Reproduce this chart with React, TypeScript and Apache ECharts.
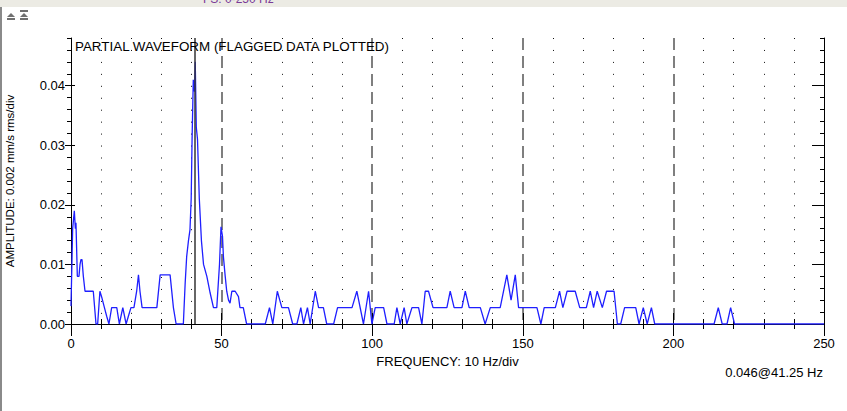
import React, { useEffect, useRef } from "react";
import * as echarts from "echarts";

const L1 = 0.00275;
const L2 = 0.0055;
const L3 = 0.00825;

// Frequency (Hz) of each plotted point
const freqs: number[] = [
  0, 0.55, 1.1, 1.45, 1.65, 2.1, 2.65, 3.0, 3.3, 3.65, 4.1, 4.65, 7.4, 8.3, 8.85, 9.6, 10.2, 11.1, 11.85, 12.6,
  13.5, 15.2, 16.05, 17.2, 18.3, 19.05, 19.9, 20.9, 21.8, 22.4, 22.9, 23.6, 28.5, 29.6, 32.9, 34.0, 34.9, 37.3,
  37.9, 38.4, 39.0, 39.5, 39.9, 40.2, 40.6, 41.0, 41.25, 41.6, 42.0, 42.6, 43.3, 44.0, 45.1, 46.2, 47.3, 48.4,
  49.3, 49.8, 50.3, 50.6, 51.2, 51.7, 52.3, 52.8, 53.4, 54.5, 55.6, 56.1, 57.2, 58.3,
  64.5, 65.9, 67.0, 68.5, 70.0, 72.2, 73.6, 75.0, 76.3, 77.2, 78.5, 79.4, 81.1, 82.2, 83.8, 84.9, 87.2, 88.5,
  93.3, 94.9, 97.1, 98.8, 99.9, 101.0, 103.8, 104.9, 107.3, 108.2, 109.3, 110.6, 111.5, 113.2, 115.4, 116.5,
  117.6, 118.7, 120.2, 124.8, 125.9, 127.2, 129.8, 130.9, 132.2, 135.9, 137.5, 139.2, 142.5, 144.7, 146.1,
  147.5, 148.6, 154.7, 156.0, 157.1, 160.8, 162.2, 163.3, 164.7, 167.4, 168.9, 171.1, 172.4, 173.5, 174.7,
  176.4, 177.8, 180.3, 181.4, 182.5, 183.8, 187.5, 188.6, 190.0, 191.3, 192.7, 193.8, 213.5, 214.9, 216.2,
  217.8, 219.0, 220.3, 250,
];

// Amplitude (mm/s rms) at each frequency above
const amps: number[] = [
  0.003, 0.016, 0.019, 0.016, 0.017, 0.008, 0.008, 0.010, 0.0108, 0.0108, 0.008, L2, L2, 0, 0, L2, 0.0045, L1, 0.0013, 0,
  L1, L1, 0, L1, 0, 0.0013, L1, L1, L2, L3, L2, L1, L1, L3, L3, L1, 0, 0,
  0.0068, 0.0113, 0.014, 0.0158, 0.021, 0.031, 0.041, 0.039, 0.044, 0.033, 0.031, 0.021, 0.014, 0.010, 0.008, 0.0052, L1, L1,
  0.010, 0.0163, 0.0147, 0.0113, 0.008, L2, 0.004, 0.0035, L2, L2, 0.0046, L1, L1, 0,
  0, L1, 0, L2, L1, L1, 0, 0, L1, 0, L1, 0, L2, L1, L1, 0, 0, L1,
  L1, L2, 0, L2, 0, L1, L1, 0, 0, L1, 0, L1, 0, L1, L1, 0,
  L2, L2, L1, L1, L2, L1, L1, L2, L1, L1, 0, L1, L1, L3, 0.004,
  L3, L1, L1, 0, L1, L1, L2, L1, L2, L2, L1, L1, L2, L1, L2,
  L1, L2, L2, 0, 0, L1, L1, 0, L1, 0, L1, 0, 0, L1, 0,
  0, L1, 0, 0,
];

const majorY = [0, 0.01, 0.02, 0.03, 0.04];
const cursorFreq = 41.25;
const cursorLabel = "0.046@41.25 Hz";
const titleText = "PARTIAL WAVEFORM (FLAGGED DATA PLOTTED)";
const xName = "FREQUENCY: 10 Hz/div";
const yName = "AMPLITUDE: 0.002 mm/s rms/div";
const headerText = "FS: 0-250 Hz";

const FONT = "'Liberation Sans', Arial, sans-serif";

export default function App() {
  const ref = useRef<HTMLDivElement>(null);
  useEffect(() => {
    if (!ref.current) return;
    const chart = echarts.init(ref.current, undefined, { renderer: "svg" });
    const data = freqs.map((f, i) => [f, amps[i]]);
    const yBase = { type: "value", min: 0, max: 0.048, splitLine: { show: false } };
    const option: any = {
      animation: false,
      backgroundColor: "#ffffff",
      textStyle: { fontFamily: FONT },
      title: {
        text: titleText,
        left: 75,
        top: 40,
        padding: 0,
        textStyle: { fontSize: 13.4, fontWeight: "normal", color: "#000", fontFamily: FONT },
      },
      grid: {
        left: 71,
        top: 38,
        width: 753,
        height: 286,
        containLabel: false,
        outerBoundsMode: "none",
      },
      xAxis: [
        {
          type: "value",
          position: "bottom",
          min: 0,
          max: 250,
          interval: 50,
          axisLine: { show: true, lineStyle: { color: "#000", width: 1 } },
          axisTick: { show: true, length: 12, lineStyle: { color: "#000" } },
          minorTick: { show: true, splitNumber: 5, length: 5, lineStyle: { color: "#000" } },
          axisLabel: { color: "#000", fontSize: 13, margin: 13, fontFamily: FONT },
          splitLine: {
            show: true,
            showMinLine: false,
            showMaxLine: false,
            lineStyle: { color: "#555", width: 1.5, type: [12, 6] },
          },
          minorSplitLine: { show: true, lineStyle: { color: "#111", width: 1, type: [1, 10.95] } },
          name: xName,
          nameLocation: "middle",
          nameGap: 27,
          nameTextStyle: { color: "#000", fontSize: 13, fontFamily: FONT },
        },
        {
          type: "value",
          position: "top",
          min: 0,
          max: 250,
          interval: 50,
          axisLine: { show: true, lineStyle: { color: "#000", width: 1 } },
          axisTick: { show: true, length: 11, lineStyle: { color: "#000" } },
          minorTick: { show: true, splitNumber: 5, length: 5, lineStyle: { color: "#000" } },
          axisLabel: { show: false },
          splitLine: { show: false },
        },
      ],
      yAxis: [
        {
          ...yBase,
          position: "left",
          interval: 0.002,
          axisLine: { show: true, lineStyle: { color: "#000", width: 1 } },
          axisTick: { show: true, length: 4, lineStyle: { color: "#000" } },
          axisLabel: {
            color: "#000",
            fontSize: 13,
            margin: 6,
            fontFamily: FONT,
            formatter: (v: number) => {
              const k = Math.round(v / 0.002);
              return k % 5 === 0 ? v.toFixed(2) : "";
            },
          },
          name: yName,
          nameLocation: "middle",
          nameRotate: 90,
          nameGap: 55,
          nameTextStyle: { color: "#000", fontSize: 11.5, fontFamily: FONT },
        },
        {
          ...yBase,
          position: "left",
          interval: 0.01,
          axisLine: { show: false },
          axisTick: { show: true, length: 6, customValues: majorY, lineStyle: { color: "#000" } },
          axisLabel: { show: false },
        },
        {
          ...yBase,
          position: "left",
          interval: 0.01,
          axisLine: { show: false },
          axisTick: { show: true, inside: true, length: 4, customValues: majorY, lineStyle: { color: "#000" } },
          axisLabel: { show: false },
        },
        {
          ...yBase,
          position: "right",
          interval: 0.002,
          axisLine: { show: true, lineStyle: { color: "#000", width: 1 } },
          axisTick: { show: true, inside: true, length: 4, lineStyle: { color: "#000" } },
          axisLabel: { show: false },
        },
        {
          ...yBase,
          position: "right",
          interval: 0.01,
          axisLine: { show: false },
          axisTick: { show: true, inside: true, length: 12, customValues: majorY, lineStyle: { color: "#000" } },
          axisLabel: { show: false },
        },
      ],
      series: [
        {
          type: "line",
          xAxisIndex: 0,
          yAxisIndex: 0,
          data,
          showSymbol: false,
          symbol: "none",
          lineStyle: { color: "#1f1fff", width: 1.3 },
          z: 3,
          markLine: {
            silent: true,
            symbol: ["none", "none"],
            label: { show: false },
            lineStyle: { color: "#333", width: 1.5, type: "solid" },
            data: [{ xAxis: cursorFreq }],
            z: 4,
          },
        },
      ],
      graphic: [
        { type: "rect", left: 0, top: 0, shape: { width: 847, height: 7 }, style: { fill: "#ecebe4" } },
        {
          type: "text",
          x: 203,
          y: -7,
          style: { text: headerText, fill: "#7a3a96", fontSize: 12, fontFamily: FONT },
        },
        { type: "rect", left: 0, top: 7, shape: { width: 2, height: 404 }, style: { fill: "#8a8a8a" } },
        {
          type: "polygon",
          shape: { points: [[7, 17], [11, 13], [15, 17]] },
          style: { fill: "#707070" },
        },
        { type: "rect", shape: { x: 7, y: 18, width: 8, height: 2 }, style: { fill: "#707070" } },
        { type: "rect", shape: { x: 20, y: 10, width: 8, height: 2 }, style: { fill: "#707070" } },
        {
          type: "polygon",
          shape: { points: [[20, 17], [24, 13], [28, 17]] },
          style: { fill: "#707070" },
        },
        { type: "rect", shape: { x: 20, y: 18, width: 8, height: 2 }, style: { fill: "#707070" } },
        {
          type: "text",
          right: 24,
          top: 366,
          style: { text: cursorLabel, fill: "#000", fontSize: 13, fontFamily: FONT },
        },
      ],
    };
    chart.setOption(option);
    return () => chart.dispose();
  }, []);
  return (
    <div
      ref={ref}
      style={{ position: "fixed", left: 0, top: 0, width: 847, height: 411, background: "#fff" }}
    />
  );
}
